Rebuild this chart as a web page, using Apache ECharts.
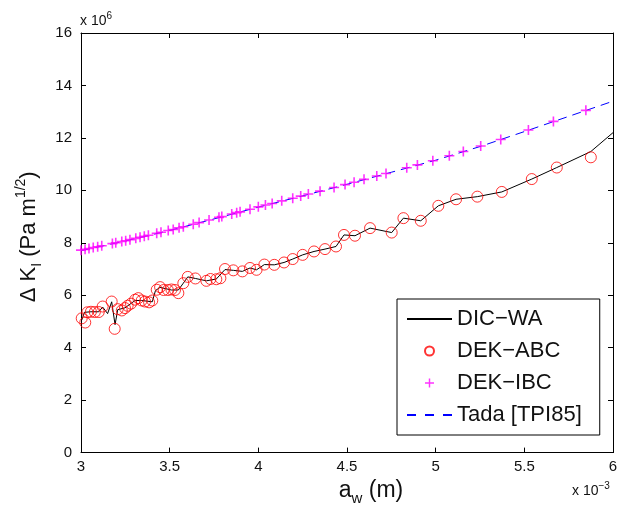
<!DOCTYPE html>
<html>
<head>
<meta charset="utf-8">
<script src="https://cdn.jsdelivr.net/npm/echarts@6/dist/echarts.min.js"></script>
<style>
html,body{margin:0;padding:0;background:#fff;}
#chart{width:630px;height:511px;}
</style>
</head>
<body>
<div id="chart"></div>
<script>
// ---- data (x in 1e-3 m, y in 1e6 Pa m^1/2) ----
const xTicks = [3, 3.5, 4, 4.5, 5, 5.5, 6];
const yTicks = [0, 2, 4, 6, 8, 10, 12, 14, 16];

const dicX = [3.004,3.020,3.056,3.100,3.122,3.150,3.173,3.192,3.207,3.248,3.305,3.342,3.402,3.420,3.446,3.510,3.549,3.577,3.602,3.645,3.707,3.763,3.812,3.859,3.910,3.953,3.990,4.034,4.090,4.145,4.194,4.250,4.314,4.376,4.438,4.483,4.545,4.630,4.752,4.818,4.916,5.015,5.115,5.235,5.373,5.542,5.683,5.875,6.000];
const dicY = [5.05,5.35,5.37,5.37,5.55,5.30,5.75,4.88,5.45,5.52,5.80,5.80,5.75,6.18,6.30,6.20,6.20,6.46,6.70,6.64,6.55,6.62,6.98,6.95,6.91,7.04,6.97,7.17,7.16,7.25,7.38,7.54,7.67,7.76,7.86,8.30,8.27,8.56,8.39,8.94,8.84,9.41,9.66,9.76,9.94,10.43,10.87,11.48,12.20];

const abcX = [3.004,3.024,3.036,3.056,3.078,3.100,3.122,3.173,3.190,3.207,3.230,3.248,3.263,3.282,3.305,3.323,3.342,3.361,3.384,3.402,3.427,3.446,3.466,3.490,3.510,3.530,3.549,3.577,3.602,3.645,3.707,3.730,3.763,3.786,3.812,3.859,3.910,3.953,3.990,4.034,4.090,4.145,4.194,4.250,4.314,4.376,4.438,4.483,4.545,4.630,4.752,4.818,4.916,5.015,5.115,5.235,5.373,5.542,5.683,5.875];
const abcY = [5.12,4.96,5.35,5.37,5.36,5.36,5.57,5.76,4.72,5.47,5.42,5.51,5.60,5.68,5.83,5.89,5.80,5.76,5.73,5.80,6.21,6.31,6.20,6.20,6.22,6.20,6.08,6.46,6.70,6.64,6.55,6.62,6.61,6.65,7.00,6.95,6.91,7.04,6.97,7.17,7.16,7.25,7.38,7.54,7.67,7.76,7.86,8.30,8.27,8.56,8.39,8.94,8.84,9.41,9.66,9.76,9.94,10.43,10.87,11.26];

const ibcX = [3.000,3.023,3.045,3.069,3.094,3.117,3.177,3.196,3.230,3.252,3.276,3.309,3.333,3.357,3.380,3.427,3.451,3.492,3.520,3.553,3.577,3.633,3.666,3.722,3.778,3.794,3.850,3.878,3.897,3.953,4.000,4.040,4.078,4.132,4.194,4.239,4.282,4.348,4.427,4.489,4.540,4.596,4.668,4.720,4.837,4.897,4.984,5.077,5.156,5.254,5.367,5.523,5.664,5.847];
const ibcY = [7.72,7.75,7.78,7.82,7.85,7.89,7.97,8.00,8.05,8.08,8.12,8.17,8.21,8.25,8.29,8.36,8.40,8.47,8.51,8.57,8.61,8.71,8.77,8.87,8.97,9.00,9.10,9.15,9.18,9.28,9.37,9.44,9.50,9.60,9.70,9.78,9.86,9.97,10.11,10.22,10.31,10.42,10.55,10.64,10.86,10.97,11.13,11.32,11.48,11.69,11.94,12.30,12.63,13.05];

const tadaX = [3.0,3.25,3.5,3.75,4.0,4.25,4.5,4.75,5.0,5.25,5.5,5.75,6.0];
const tadaY = [7.70,8.07,8.47,8.91,9.36,9.79,10.23,10.69,11.15,11.67,12.24,12.82,13.40];

const seriesNames = ['DIC\u2212WA', 'DEK\u2212ABC', 'DEK\u2212IBC', 'Tada [TPI85]'];

const zip = (xs, ys) => xs.map((x, i) => [x, ys[i]]);

const FONT = 'Liberation Sans, Arial, sans-serif';
const TXT = '#111';
const plusPath = 'path://M0,4.2H10V5.8H0Z M4.2,0H5.8V10H4.2Z';

const chart = echarts.init(document.getElementById('chart'), null, {renderer: 'canvas'});

const axisCommon = {
  axisLine: {show: true, onZero: false, lineStyle: {color: '#000', width: 1}},
  axisTick: {show: true, inside: true, length: 5, lineStyle: {color: '#000', width: 1}},
  splitLine: {show: false}
};

chart.setOption({
  backgroundColor: '#fff',
  animation: false,
  textStyle: {fontFamily: FONT},
  grid: {left: 81, right: 17, top: 33, bottom: 58, containLabel: false},
  xAxis: [
    Object.assign({}, axisCommon, {
      type: 'value', position: 'bottom', min: xTicks[0], max: xTicks[xTicks.length - 1], interval: 0.5,
      axisLabel: {color: TXT, fontSize: 15, margin: 7, fontFamily: FONT},
      name: '{a|a}{s|w}{a| (m)}', nameLocation: 'middle', nameGap: 21,
      nameTextStyle: {
        color: TXT, fontFamily: FONT, padding: [0, 0, 0, 48],
        rich: {
          a: {fontSize: 23, lineHeight: 30, color: TXT, fontFamily: FONT},
          s: {fontSize: 15, lineHeight: 30, verticalAlign: 'bottom', color: TXT, fontFamily: FONT}
        }
      }
    }),
    Object.assign({}, axisCommon, {
      type: 'value', position: 'top', min: xTicks[0], max: xTicks[xTicks.length - 1], interval: 0.5,
      axisLabel: {show: false}
    })
  ],
  yAxis: [
    Object.assign({}, axisCommon, {
      type: 'value', position: 'left', min: yTicks[0], max: yTicks[yTicks.length - 1], interval: 2,
      axisLabel: {color: TXT, fontSize: 15, margin: 9, fontFamily: FONT},
      name: '{a|\u0394 K}{s|I}{a| (Pa m}{p|1/2}{a|)}', nameLocation: 'middle', nameGap: 33, nameRotate: 90,
      nameTextStyle: {
        color: TXT, fontFamily: FONT, padding: [0, 0, 0, 12],
        rich: {
          a: {fontSize: 22, lineHeight: 30, color: TXT, fontFamily: FONT},
          s: {fontSize: 14, lineHeight: 26, verticalAlign: 'bottom', color: TXT, fontFamily: FONT},
          p: {fontSize: 14, lineHeight: 14, verticalAlign: 'top', color: TXT, fontFamily: FONT}
        }
      }
    }),
    Object.assign({}, axisCommon, {
      type: 'value', position: 'right', min: yTicks[0], max: yTicks[yTicks.length - 1], interval: 2,
      axisLabel: {show: false}
    })
  ],
  legend: {
    show: true,
    orient: 'vertical',
    left: 397, top: 299,
    padding: [9, 18, 9, 9],
    itemGap: 10,
    itemWidth: 45, itemHeight: 9,
    itemTextGap: 6,
    backgroundColor: '#fff',
    borderColor: '#000', borderWidth: 1, borderRadius: 0,
    textStyle: {fontSize: 22, lineHeight: 22, color: TXT, fontFamily: FONT},
    data: [
      {name: seriesNames[0], itemStyle: {opacity: 0}},
      {name: seriesNames[1]},
      {name: seriesNames[2]},
      {name: seriesNames[3], itemStyle: {opacity: 0}, lineStyle: {type: [9, 9]}}
    ]
  },
  series: [
    {
      name: seriesNames[0], type: 'line', data: zip(dicX, dicY),
      symbol: 'none', lineStyle: {color: '#000', width: 1}, itemStyle: {color: '#000'}, z: 3
    },
    {
      name: seriesNames[1], type: 'scatter', data: zip(abcX, abcY),
      symbol: 'circle', symbolSize: 11,
      itemStyle: {color: 'rgba(255,255,255,0)', borderColor: '#ff0000', borderWidth: 1}, z: 4
    },
    {
      name: seriesNames[2], type: 'scatter', data: zip(ibcX, ibcY),
      symbol: plusPath, symbolSize: 10,
      itemStyle: {color: '#ff00ff', borderWidth: 0}, z: 5
    },
    {
      name: seriesNames[3], type: 'line', data: zip(tadaX, tadaY),
      symbol: 'none', smooth: false,
      lineStyle: {color: '#0000ff', width: 1, type: [9, 6]}, itemStyle: {color: '#0000ff'}, z: 2
    }
  ],
  graphic: [
    {
      type: 'text', left: 80, top: 11,
      style: {
        text: '{a|x 10}{b|6}',
        rich: {
          a: {fontSize: 14, lineHeight: 20, fill: TXT, fontFamily: FONT},
          b: {fontSize: 10, lineHeight: 11, verticalAlign: 'top', fill: TXT, fontFamily: FONT}
        }
      }
    },
    {
      type: 'text', left: 572, top: 481,
      style: {
        text: '{a|x 10}{b|\u22123}',
        rich: {
          a: {fontSize: 14, lineHeight: 20, fill: TXT, fontFamily: FONT},
          b: {fontSize: 10, lineHeight: 11, verticalAlign: 'top', fill: TXT, fontFamily: FONT}
        }
      }
    }
  ]
});
</script>
</body>
</html>
